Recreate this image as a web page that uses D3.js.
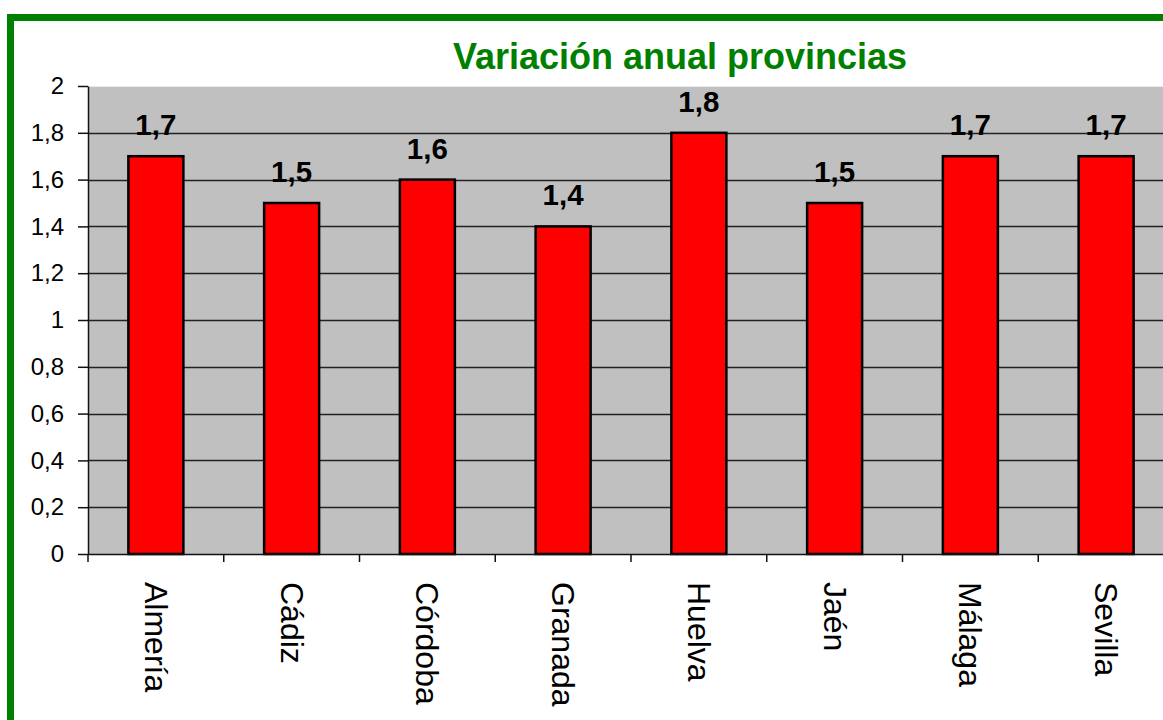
<!DOCTYPE html>
<html>
    <head>
        <meta charset='utf-8'>
        <title>Variación anual provincias</title>
        <script src='https://cdn.jsdelivr.net/npm/d3@7'></script>
        <style>
            body { margin:0; background:#fff; }
            svg { display:block; font-family: Arial, 'Liberation Sans', sans-serif; }
        </style>
    </head>
    <body>
        <script>
            var provincias = ["Almería", "Cádiz", "Córdoba", "Granada", "Huelva", "Jaén", "Málaga", "Sevilla"];
            var variacion = [1.7, 1.5, 1.6, 1.4, 1.8, 1.5, 1.7, 1.7];
            var yTicks = [0, 0.2, 0.4, 0.6, 0.8, 1, 1.2, 1.4, 1.6, 1.8, 2];

            var w = 1163;
            var h = 720;
            var plotLeft = 88, plotTop = 86, plotBottom = 554;
            var bandW = 135.75;

            var fmt = function(d) { return String(d).replace(".", ","); };

            var svg = d3.select("body")
                        .append("svg")
                        .attr("width", w)
                        .attr("height", h);

            // green frame, runs past the right and bottom edges
            svg.append("rect")
                .attr("x", 10.5).attr("y", 17.5)
                .attr("width", 1300).attr("height", 900)
                .attr("fill", "none")
                .attr("stroke", "#008000")
                .attr("stroke-width", 7);

            var x = d3.scaleBand()
                        .domain(provincias)
                        .range([plotLeft, plotLeft + bandW * provincias.length]);

            var y = d3.scaleLinear()
                        .domain([0, 2])
                        .range([plotBottom, plotTop]);

            // plot background
            svg.append("rect")
                .attr("x", plotLeft).attr("y", plotTop)
                .attr("width", w - plotLeft).attr("height", plotBottom - plotTop)
                .attr("fill", "#c0c0c0");
            svg.append("line")
                .attr("x1", plotLeft).attr("x2", w)
                .attr("y1", plotTop + 0.5).attr("y2", plotTop + 0.5)
                .attr("stroke", "#ececec");

            // gridlines
            svg.selectAll("line.grid")
                .data(yTicks.filter(function(d) { return d > 0 && d < 2; }))
                .enter()
                .append("line")
                .attr("class", "grid")
                .attr("x1", plotLeft).attr("x2", w)
                .attr("y1", function(d) { return Math.round(y(d)) + 0.5; })
                .attr("y2", function(d) { return Math.round(y(d)) + 0.5; })
                .attr("stroke", "#222")
                .attr("stroke-width", 1.5);

            // y axis
            var yAxis = d3.axisLeft(y)
                            .tickValues(yTicks)
                            .tickSize(10)
                            .tickSizeOuter(0)
                            .tickPadding(14)
                            .tickFormat(fmt);
            var gy = svg.append("g")
                        .attr("transform", "translate(" + plotLeft + ",0)")
                        .call(yAxis);
            gy.selectAll("path, line").attr("stroke", "#111").attr("stroke-width", 1.5);
            gy.selectAll("text")
                .attr("font-size", "24px")
                .attr("font-family", "Arial, 'Liberation Sans', sans-serif")
                .attr("fill", "#000");

            // bars
            var barW = 55;
            svg.selectAll("rect.bar")
                .data(variacion)
                .enter()
                .append("rect")
                .attr("class", "bar")
                .attr("x", function(d, i) { return x(provincias[i]) + x.bandwidth() / 2 - barW / 2; })
                .attr("y", function(d) { return y(d); })
                .attr("width", barW)
                .attr("height", function(d) { return plotBottom - y(d); })
                .attr("fill", "#ff0000")
                .attr("stroke", "#000")
                .attr("stroke-width", 2.5);

            // value labels
            svg.selectAll("text.val")
                .data(variacion)
                .enter()
                .append("text")
                .attr("class", "val")
                .text(fmt)
                .attr("x", function(d, i) { return x(provincias[i]) + x.bandwidth() / 2; })
                .attr("y", function(d) { return y(d) - 21; })
                .attr("text-anchor", "middle")
                .attr("font-size", "29.5px")
                .attr("font-weight", "bold")
                .attr("fill", "#000");

            // x axis line and ticks
            svg.append("line")
                .attr("x1", plotLeft).attr("x2", w)
                .attr("y1", plotBottom + 0.5).attr("y2", plotBottom + 0.5)
                .attr("stroke", "#111").attr("stroke-width", 1.5);
            svg.selectAll("line.xtick")
                .data(d3.range(provincias.length + 1))
                .enter()
                .append("line")
                .attr("class", "xtick")
                .attr("x1", function(i) { return plotLeft + i * x.step(); })
                .attr("x2", function(i) { return plotLeft + i * x.step(); })
                .attr("y1", plotBottom).attr("y2", plotBottom + 8)
                .attr("stroke", "#111").attr("stroke-width", 1.5);

            // category labels, rotated
            svg.selectAll("text.cat")
                .data(provincias)
                .enter()
                .append("text")
                .attr("class", "cat")
                .text(function(d) { return d; })
                .attr("transform", function(d) {
                    return "translate(" + (x(d) + x.bandwidth() / 2) + "," + 582 + ") rotate(90)";
                })
                .attr("dominant-baseline", "central")
                .attr("font-size", "32px")
                .attr("fill", "#000");

            // title
            svg.append("text")
                .text("Variación anual provincias")
                .attr("x", 680)
                .attr("y", 69)
                .attr("text-anchor", "middle")
                .attr("font-size", "36px")
                .attr("font-weight", "bold")
                .attr("fill", "#008000");
        </script>
    </body>
</html>
